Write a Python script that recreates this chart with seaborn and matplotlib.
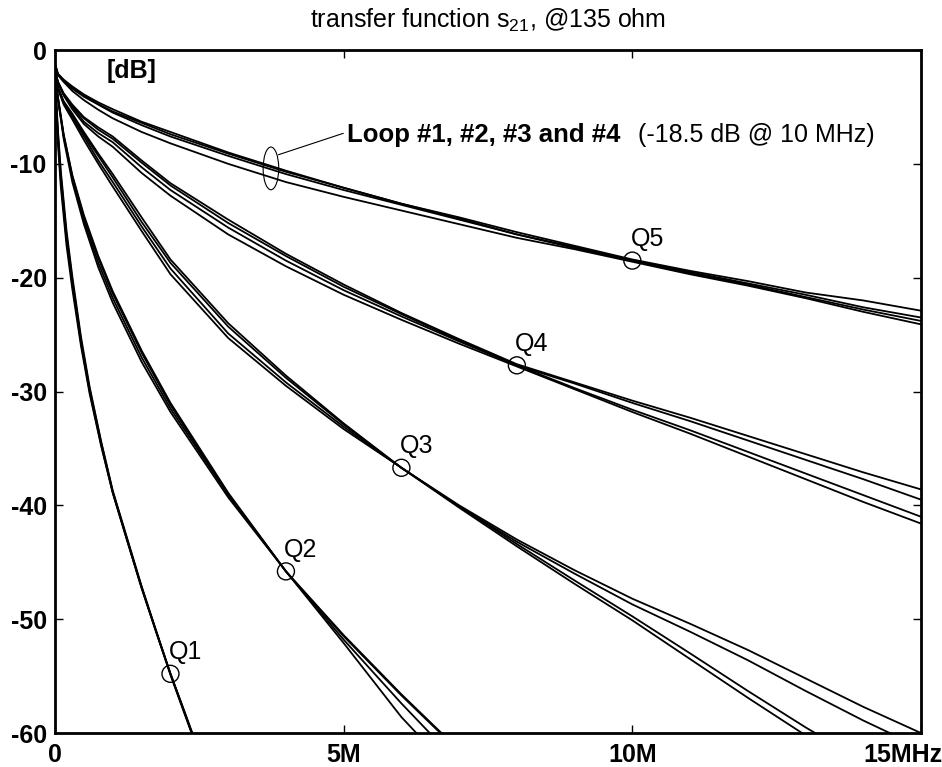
import matplotlib
matplotlib.use('Agg')
import matplotlib.pyplot as plt
import matplotlib.transforms as mtransforms
from matplotlib.patches import Ellipse
import pandas as pd
import seaborn as sns

# frequency grids [MHz] for each quality class
f_q1 = [0, 0.05, 0.1, 0.2, 0.3, 0.45, 0.6, 0.8, 1.0, 1.25, 1.5, 1.75, 2.0, 2.25, 2.5]
f_q2 = [0, 0.05, 0.15, 0.3, 0.5, 0.75, 1, 1.5, 2, 3, 4, 5, 6, 7, 8]
f_long = [0, 0.05, 0.15, 0.3, 0.5, 0.75, 1, 1.5, 2, 3, 4, 5, 6, 7, 8, 9, 10, 11, 12, 13, 14, 15]

# s21 [dB], loops #1..#4 per class
q1_loops = [
    [-2.3, -7.0, -10.6, -15.9, -19.9, -25.2, -29.6, -34.4, -38.7, -42.9, -47.1, -51.0, -54.8, -58.2, -61.7],
    [-2.4, -7.3, -11.0, -16.3, -20.2, -25.5, -29.8, -34.5, -38.8, -43.0, -47.2, -51.0, -54.8, -58.3, -61.8],
    [-2.5, -7.7, -11.4, -16.7, -20.6, -25.7, -30.0, -34.7, -38.9, -43.1, -47.2, -51.1, -54.8, -58.3, -61.8],
    [-2.6, -8.2, -12.0, -17.2, -21.0, -26.0, -30.2, -34.8, -38.9, -43.1, -47.3, -51.1, -54.9, -58.4, -61.9],
]
q2_loops = [
    [-2.2, -4.1, -7.4, -11.0, -14.5, -18.1, -21.2, -26.4, -31.0, -38.9, -45.8, -51.4, -56.6, -61.5, -65.8],
    [-2.2, -4.2, -7.5, -11.1, -14.7, -18.3, -21.4, -26.6, -31.2, -39.0, -45.8, -51.5, -56.7, -61.6, -65.9],
    [-2.2, -4.2, -7.6, -11.3, -15.0, -18.7, -21.8, -27.0, -31.5, -39.1, -45.8, -51.8, -57.4, -62.7, -67.4],
    [-2.2, -4.3, -7.8, -11.6, -15.3, -19.1, -22.2, -27.4, -31.8, -39.3, -45.8, -52.1, -58.6, -64.0, -69.2],
]
q3_loops = [
    [-2.0, -3.3, -4.5, -5.6, -7.2, -9.1, -10.9, -14.7, -18.4, -24.0, -28.6, -32.8, -36.7, -40.0, -43.0, -45.7, -48.2, -50.4, -52.7, -55.2, -57.7, -60.0],
    [-2.0, -3.3, -4.6, -5.7, -7.4, -9.3, -11.2, -15.1, -18.7, -24.3, -28.8, -32.9, -36.7, -40.1, -43.2, -46.0, -48.7, -51.1, -53.6, -56.3, -58.9, -61.3],
    [-2.0, -3.3, -4.6, -5.9, -7.6, -9.7, -11.6, -15.5, -19.2, -24.9, -29.2, -33.1, -36.7, -40.1, -43.4, -46.6, -49.75, -53.0, -56.3, -59.5, -62.5, -65.3],
    [-2.0, -3.4, -4.8, -6.1, -7.9, -10.0, -12.0, -15.9, -19.7, -25.3, -29.5, -33.3, -36.7, -40.2, -43.6, -46.9, -50.1, -53.5, -56.9, -60.2, -63.3, -66.1],
]
q4_loops = [
    [-1.8, -2.8, -3.8, -4.8, -5.9, -6.8, -7.6, -9.7, -11.7, -14.9, -17.9, -20.6, -23.1, -25.4, -27.6, -29.2, -30.8, -32.3, -33.9, -35.5, -37.1, -38.6],
    [-1.8, -2.8, -3.9, -4.9, -6.0, -7.0, -7.8, -9.9, -11.9, -15.2, -18.1, -20.8, -23.2, -25.5, -27.7, -29.3, -31.0, -32.6, -34.3, -36.0, -37.7, -39.5],
    [-1.8, -2.8, -3.9, -5.0, -6.3, -7.3, -8.1, -10.3, -12.3, -15.6, -18.5, -21.1, -23.4, -25.6, -27.7, -29.7, -31.6, -33.4, -35.3, -37.2, -39.1, -41.0],
    [-1.9, -2.9, -4.0, -5.2, -6.5, -7.6, -8.5, -10.8, -12.8, -16.2, -19.0, -21.5, -23.7, -25.8, -27.8, -29.8, -31.8, -33.7, -35.7, -37.7, -39.7, -41.6],
]
q5_loops = [
    [-1.2, -2.1, -2.6, -3.2, -3.9, -4.6, -5.2, -6.3, -7.2, -9.0, -10.6, -12.1, -13.5, -14.7, -16.0, -17.2, -18.4, -19.4, -20.3, -21.3, -22.0, -22.9],
    [-1.2, -2.1, -2.7, -3.3, -4.0, -4.75, -5.4, -6.4, -7.4, -9.1, -10.7, -12.1, -13.5, -14.8, -16.2, -17.3, -18.5, -19.5, -20.5, -21.5, -22.6, -23.5],
    [-1.3, -2.1, -2.7, -3.4, -4.1, -4.8, -5.5, -6.6, -7.6, -9.3, -10.9, -12.3, -13.6, -14.9, -16.2, -17.4, -18.5, -19.6, -20.6, -21.7, -22.8, -23.8],
    [-1.3, -2.2, -2.8, -3.6, -4.4, -5.25, -6.0, -7.2, -8.2, -10.0, -11.6, -12.9, -14.1, -15.3, -16.5, -17.5, -18.6, -19.7, -20.7, -21.8, -23.0, -24.1],
]

# marked reference points
q_names = ['Q1', 'Q2', 'Q3', 'Q4', 'Q5']
q_freq = [2, 4, 6, 8, 10]
q_db = [-54.8, -45.8, -36.7, -27.7, -18.5]

xtick_vals = [0, 5, 10, 15]
xtick_labels = ['0', '5M', '10M', '15MHz']
ytick_vals = [0, -10, -20, -30, -40, -50, -60]
ytick_labels = ['0', '-10', '-20', '-30', '-40', '-50', '-60']

groups = [('Q1', f_q1, q1_loops), ('Q2', f_q2, q2_loops), ('Q3', f_long, q3_loops),
          ('Q4', f_long, q4_loops), ('Q5', f_long, q5_loops)]
rows = []
for name, freqs, loops in groups:
    for i, vals in enumerate(loops):
        for x, y in zip(freqs, vals):
            rows.append((name, i + 1, f'{name}-{i + 1}', x, y))
df = pd.DataFrame(rows, columns=['group', 'loop', 'curve', 'freq', 'db'])

sns.set_style('ticks')
plt.rcParams['font.family'] = ['Liberation Sans', 'DejaVu Sans']
plt.rcParams['mathtext.default'] = 'regular'
plt.rcParams.update({'text.color': 'black', 'axes.edgecolor': 'black',
                     'xtick.color': 'black', 'ytick.color': 'black',
                     'axes.labelcolor': 'black'})

fig = plt.figure(figsize=(9.42, 7.67), dpi=100)
ax = fig.add_axes([0.0584, 0.0443, 0.9193, 0.8905])

sns.lineplot(data=df, x='freq', y='db', units='curve', estimator=None, sort=False,
             color='black', lw=1.3, ax=ax, legend=False)
sns.scatterplot(x=q_freq, y=q_db, marker='o', s=150, facecolors='none',
                edgecolor='black', linewidth=1.0, ax=ax, zorder=4)
for name, x, y in zip(q_names, q_freq, q_db):
    ax.text(x - 0.03, y + 1.3, name, fontsize=18, ha='left', va='baseline')

ax.set_xlim(0, 15)
ax.set_ylim(-60, 0)
ax.set_xlabel('')
ax.set_ylabel('')
ax.set_title('transfer function s$_{21}$, @135 ohm', fontsize=18, pad=16)

ax.text(0.9, -2.5, '[dB]', fontsize=18, fontweight='bold', ha='left', va='baseline')

# loop annotation
ax.add_patch(Ellipse((3.74, -10.4), 0.27, 3.75, fill=False, lw=0.8, color='black'))
ax.annotate('Loop #1, #2, #3 and #4', xy=(3.87, -9.2), xytext=(5.05, -8.05),
            fontsize=18.5, fontweight='bold', ha='left', va='baseline',
            arrowprops=dict(arrowstyle='-', lw=0.8, color='black',
                            shrinkA=0, shrinkB=0, relpos=(0, 0.6)))
ax.text(10.1, -8.05, '(-18.5 dB @ 10 MHz)', fontsize=18, ha='left', va='baseline')

for side in ['top', 'bottom', 'left', 'right']:
    ax.spines[side].set_linewidth(2.0)
    ax.spines[side].set_visible(True)

ax.tick_params(axis='both', direction='in', length=6, width=1.0,
               top=True, right=True, labelsize=18)
ax.tick_params(axis='x', pad=7)
ax.tick_params(axis='y', pad=6)
ax.set_xticks(xtick_vals)
ax.set_xticklabels(xtick_labels, fontweight='bold')
ax.set_yticks(ytick_vals)
ax.set_yticklabels(ytick_labels, fontweight='bold')

last = ax.get_xticklabels()[-1]
last.set_transform(last.get_transform() +
                   mtransforms.ScaledTranslation(-13 / 72, 0, fig.dpi_scale_trans))

fig.savefig('out.png', dpi=100)
